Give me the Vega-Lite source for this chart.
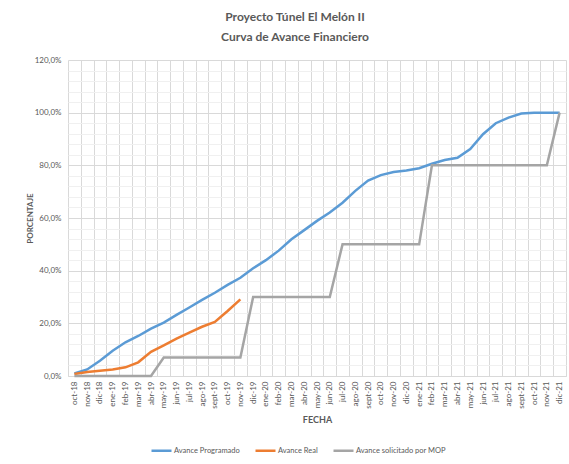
{
  "$schema": "https://vega.github.io/schema/vega-lite/v6.json",
  "width": 498,
  "height": 316,
  "autosize": "none",
  "padding": {"left": 68, "top": 60, "right": 3, "bottom": 88},
  "background": "white",
  "config": {"view": {"stroke": null}, "font": "Lato"},
  "title": {
    "text": ["Proyecto Túnel El Melón II", "Curva de Avance Financiero"],
    "fontSize": 12,
    "fontWeight": "bold",
    "color": "#595959",
    "anchor": "middle",
    "frame": "group",
    "dx": -22,
    "offset": 12,
    "lineHeight": 20
  },
  "datasets": {
    "d": [
      {"mes": "oct-18", "serie": "Avance Programado", "valor": 0.010},
      {"mes": "nov-18", "serie": "Avance Programado", "valor": 0.025},
      {"mes": "dic-18", "serie": "Avance Programado", "valor": 0.058},
      {"mes": "ene-19", "serie": "Avance Programado", "valor": 0.096},
      {"mes": "feb-19", "serie": "Avance Programado", "valor": 0.128},
      {"mes": "mar-19", "serie": "Avance Programado", "valor": 0.152},
      {"mes": "abr-19", "serie": "Avance Programado", "valor": 0.180},
      {"mes": "may-19", "serie": "Avance Programado", "valor": 0.203},
      {"mes": "jun-19", "serie": "Avance Programado", "valor": 0.232},
      {"mes": "jul-19", "serie": "Avance Programado", "valor": 0.260},
      {"mes": "ago-19", "serie": "Avance Programado", "valor": 0.289},
      {"mes": "sept-19", "serie": "Avance Programado", "valor": 0.316},
      {"mes": "oct-19", "serie": "Avance Programado", "valor": 0.346},
      {"mes": "nov-19", "serie": "Avance Programado", "valor": 0.373},
      {"mes": "dic-19", "serie": "Avance Programado", "valor": 0.409},
      {"mes": "ene-20", "serie": "Avance Programado", "valor": 0.440},
      {"mes": "feb-20", "serie": "Avance Programado", "valor": 0.476},
      {"mes": "mar-20", "serie": "Avance Programado", "valor": 0.519},
      {"mes": "abr-20", "serie": "Avance Programado", "valor": 0.554},
      {"mes": "may-20", "serie": "Avance Programado", "valor": 0.589},
      {"mes": "jun-20", "serie": "Avance Programado", "valor": 0.621},
      {"mes": "jul-20", "serie": "Avance Programado", "valor": 0.658},
      {"mes": "ago-20", "serie": "Avance Programado", "valor": 0.703},
      {"mes": "sept-20", "serie": "Avance Programado", "valor": 0.742},
      {"mes": "oct-20", "serie": "Avance Programado", "valor": 0.763},
      {"mes": "nov-20", "serie": "Avance Programado", "valor": 0.775},
      {"mes": "dic-20", "serie": "Avance Programado", "valor": 0.780},
      {"mes": "ene-21", "serie": "Avance Programado", "valor": 0.789},
      {"mes": "feb-21", "serie": "Avance Programado", "valor": 0.806},
      {"mes": "mar-21", "serie": "Avance Programado", "valor": 0.820},
      {"mes": "abr-21", "serie": "Avance Programado", "valor": 0.829},
      {"mes": "may-21", "serie": "Avance Programado", "valor": 0.862},
      {"mes": "jun-21", "serie": "Avance Programado", "valor": 0.918},
      {"mes": "jul-21", "serie": "Avance Programado", "valor": 0.960},
      {"mes": "ago-21", "serie": "Avance Programado", "valor": 0.981},
      {"mes": "sept-21", "serie": "Avance Programado", "valor": 0.997},
      {"mes": "oct-21", "serie": "Avance Programado", "valor": 1.0},
      {"mes": "nov-21", "serie": "Avance Programado", "valor": 1.0},
      {"mes": "dic-21", "serie": "Avance Programado", "valor": 1.0},
      {"mes": "oct-18", "serie": "Avance Real", "valor": 0.008},
      {"mes": "nov-18", "serie": "Avance Real", "valor": 0.015},
      {"mes": "dic-18", "serie": "Avance Real", "valor": 0.020},
      {"mes": "ene-19", "serie": "Avance Real", "valor": 0.025},
      {"mes": "feb-19", "serie": "Avance Real", "valor": 0.033},
      {"mes": "mar-19", "serie": "Avance Real", "valor": 0.052},
      {"mes": "abr-19", "serie": "Avance Real", "valor": 0.092},
      {"mes": "may-19", "serie": "Avance Real", "valor": 0.116},
      {"mes": "jun-19", "serie": "Avance Real", "valor": 0.142},
      {"mes": "jul-19", "serie": "Avance Real", "valor": 0.165},
      {"mes": "ago-19", "serie": "Avance Real", "valor": 0.187},
      {"mes": "sept-19", "serie": "Avance Real", "valor": 0.205},
      {"mes": "oct-19", "serie": "Avance Real", "valor": 0.247},
      {"mes": "nov-19", "serie": "Avance Real", "valor": 0.291},
      {"mes": "oct-18", "serie": "Avance solicitado por MOP", "valor": 0},
      {"mes": "nov-18", "serie": "Avance solicitado por MOP", "valor": 0},
      {"mes": "dic-18", "serie": "Avance solicitado por MOP", "valor": 0},
      {"mes": "ene-19", "serie": "Avance solicitado por MOP", "valor": 0},
      {"mes": "feb-19", "serie": "Avance solicitado por MOP", "valor": 0},
      {"mes": "mar-19", "serie": "Avance solicitado por MOP", "valor": 0},
      {"mes": "abr-19", "serie": "Avance solicitado por MOP", "valor": 0},
      {"mes": "may-19", "serie": "Avance solicitado por MOP", "valor": 0.07},
      {"mes": "jun-19", "serie": "Avance solicitado por MOP", "valor": 0.07},
      {"mes": "jul-19", "serie": "Avance solicitado por MOP", "valor": 0.07},
      {"mes": "ago-19", "serie": "Avance solicitado por MOP", "valor": 0.07},
      {"mes": "sept-19", "serie": "Avance solicitado por MOP", "valor": 0.07},
      {"mes": "oct-19", "serie": "Avance solicitado por MOP", "valor": 0.07},
      {"mes": "nov-19", "serie": "Avance solicitado por MOP", "valor": 0.07},
      {"mes": "dic-19", "serie": "Avance solicitado por MOP", "valor": 0.30},
      {"mes": "ene-20", "serie": "Avance solicitado por MOP", "valor": 0.30},
      {"mes": "feb-20", "serie": "Avance solicitado por MOP", "valor": 0.30},
      {"mes": "mar-20", "serie": "Avance solicitado por MOP", "valor": 0.30},
      {"mes": "abr-20", "serie": "Avance solicitado por MOP", "valor": 0.30},
      {"mes": "may-20", "serie": "Avance solicitado por MOP", "valor": 0.30},
      {"mes": "jun-20", "serie": "Avance solicitado por MOP", "valor": 0.30},
      {"mes": "jul-20", "serie": "Avance solicitado por MOP", "valor": 0.50},
      {"mes": "ago-20", "serie": "Avance solicitado por MOP", "valor": 0.50},
      {"mes": "sept-20", "serie": "Avance solicitado por MOP", "valor": 0.50},
      {"mes": "oct-20", "serie": "Avance solicitado por MOP", "valor": 0.50},
      {"mes": "nov-20", "serie": "Avance solicitado por MOP", "valor": 0.50},
      {"mes": "dic-20", "serie": "Avance solicitado por MOP", "valor": 0.50},
      {"mes": "ene-21", "serie": "Avance solicitado por MOP", "valor": 0.50},
      {"mes": "feb-21", "serie": "Avance solicitado por MOP", "valor": 0.80},
      {"mes": "mar-21", "serie": "Avance solicitado por MOP", "valor": 0.80},
      {"mes": "abr-21", "serie": "Avance solicitado por MOP", "valor": 0.80},
      {"mes": "may-21", "serie": "Avance solicitado por MOP", "valor": 0.80},
      {"mes": "jun-21", "serie": "Avance solicitado por MOP", "valor": 0.80},
      {"mes": "jul-21", "serie": "Avance solicitado por MOP", "valor": 0.80},
      {"mes": "ago-21", "serie": "Avance solicitado por MOP", "valor": 0.80},
      {"mes": "sept-21", "serie": "Avance solicitado por MOP", "valor": 0.80},
      {"mes": "oct-21", "serie": "Avance solicitado por MOP", "valor": 0.80},
      {"mes": "nov-21", "serie": "Avance solicitado por MOP", "valor": 0.80},
      {"mes": "dic-21", "serie": "Avance solicitado por MOP", "valor": 1.0}
    ]
  },
  "data": {"name": "d"},
  "encoding": {
    "x": {
      "field": "mes",
      "type": "ordinal",
      "sort": null,
      "bandPosition": 0.5,
      "scale": {"type": "band", "paddingInner": 0, "paddingOuter": 0},
      "axis": {
        "title": "FECHA",
        "titleFontWeight": "bold",
        "titleFontSize": 9,
        "titleColor": "#595959",
        "titlePadding": 7,
        "labelAngle": 270,
        "labelFontSize": 8,
        "labelColor": "#595959",
        "labelPadding": 5,
        "tickBand": "extent",
        "grid": true,
        "gridColor": "#D9D9D9",
        "ticks": false,
        "domainColor": "#D9D9D9"
      }
    }
  },
  "layer": [
    {
      "mark": {"type": "line", "opacity": 0},
      "encoding": {
        "y": {
          "field": "valor",
          "type": "quantitative",
          "scale": {"domain": [0, 1.2], "nice": false},
          "axis": {
            "orient": "left",
            "values": [0.04, 0.08, 0.12, 0.16, 0.24, 0.28, 0.32, 0.36, 0.44, 0.48, 0.52, 0.56, 0.64, 0.68, 0.72, 0.76, 0.84, 0.88, 0.92, 0.96, 1.04, 1.08, 1.12, 1.16],
            "grid": true,
            "gridColor": "#F0F0F0",
            "labels": false,
            "ticks": false,
            "domain": false,
            "title": null
          }
        },
        "detail": {"field": "serie"}
      }
    },
    {
      "mark": {"type": "line", "strokeWidth": 2.5},
      "encoding": {
        "y": {
          "field": "valor",
          "type": "quantitative",
          "scale": {"domain": [0, 1.2], "nice": false},
          "axis": {
            "orient": "left",
            "values": [0, 0.2, 0.4, 0.6, 0.8, 1.0, 1.2],
            "labelExpr": "replace(format(datum.value, '.1%'), '.', ',')",
            "grid": true,
            "gridColor": "#D9D9D9",
            "ticks": false,
            "domain": false,
            "labelFontSize": 8,
            "labelColor": "#595959",
            "labelPadding": 7,
            "title": "PORCENTAJE",
            "titleFontSize": 8,
            "titleFontWeight": "bold",
            "titleColor": "#595959",
            "titlePadding": 0
          }
        },
        "color": {
          "field": "serie",
          "type": "nominal",
          "scale": {
            "domain": ["Avance Programado", "Avance Real", "Avance solicitado por MOP"],
            "range": ["#5B9BD5", "#ED7D31", "#A5A5A5"]
          },
          "legend": {
            "orient": "none",
            "legendX": 82,
            "legendY": 379,
            "direction": "horizontal",
            "title": null,
            "symbolType": "stroke",
            "symbolSize": 400,
            "symbolStrokeWidth": 2.5,
            "labelFontSize": 7.5,
            "labelFontWeight": "normal",
            "labelColor": "#595959",
            "labelOffset": 1,
            "columnPadding": 10
          }
        }
      }
    }
  ],
  "resolve": {"axis": {"y": "independent"}}
}
